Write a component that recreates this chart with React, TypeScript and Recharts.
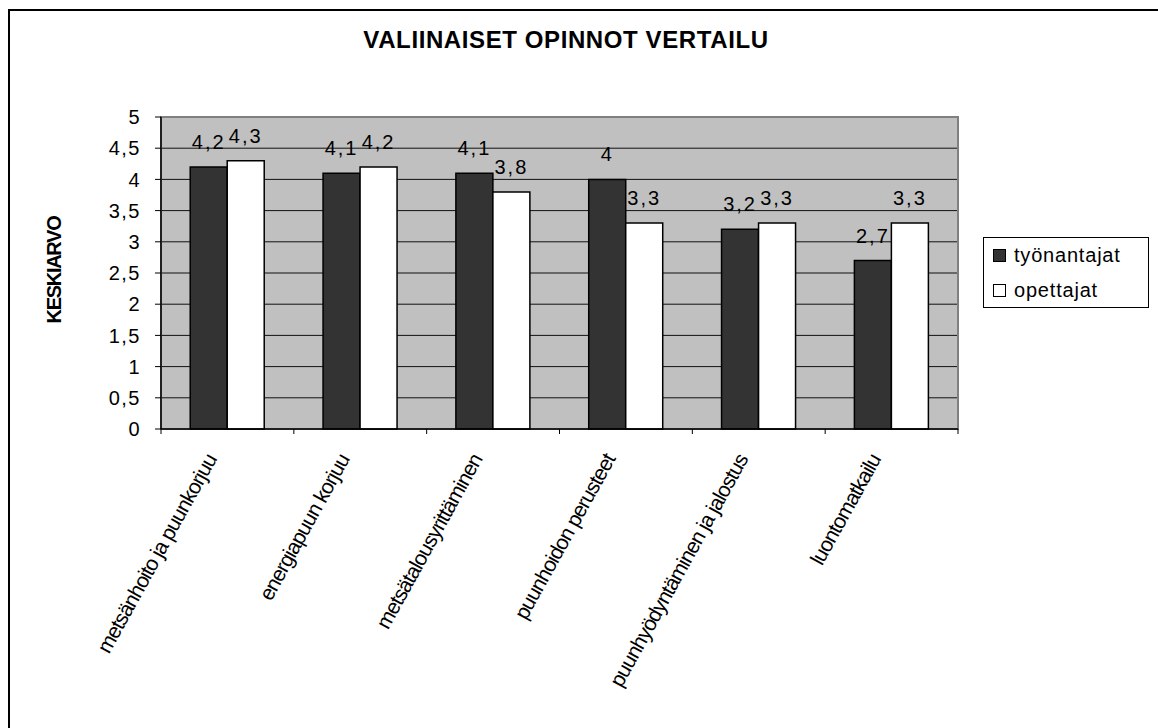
import React from 'react';
import { BarChart, Bar, XAxis, YAxis, CartesianGrid, LabelList, Legend, ReferenceArea, Label } from 'recharts';

const categories = [
  'metsänhoito ja puunkorjuu',
  'energiapuun korjuu',
  'metsätalousyrittäminen',
  'puunhoidon perusteet',
  'puunhyödyntäminen ja jalostus',
  'luontomatkailu',
];
const tyonantajat = [4.2, 4.1, 4.1, 4.0, 3.2, 2.7];
const opettajat = [4.3, 4.2, 3.8, 3.3, 3.3, 3.3];
const seriesNames = ['työnantajat', 'opettajat'];
const yTicks = [0, 0.5, 1, 1.5, 2, 2.5, 3, 3.5, 4, 4.5, 5];
const title = 'VALIINAISET OPINNOT VERTAILU';
const yLabel = 'KESKIARVO';

const data = categories.map((c, i) => ({ name: c, tyonantajat: tyonantajat[i], opettajat: opettajat[i] }));

const FONT = '"Liberation Sans", Arial, sans-serif';
const W = 1158;
const H = 728;
const MARGIN = { top: 117, right: 200, bottom: 0, left: 0 };
const Y_W = 161;
const X_H = 299;
const PLOT_W = W - MARGIN.left - MARGIN.right - Y_W;

const fmt = (v: any) => String(v).replace('.', ',');

const XTick = (props: any) => {
  const { x, y, payload, index } = props;
  const band = PLOT_W / categories.length;
  const ax = x - 10;
  const ay = y + 30;
  return (
    <g>
      <line x1={x - band / 2} y1={y} x2={x - band / 2} y2={y + 5} stroke="#000" strokeWidth={1} />
      {index === categories.length - 1 && (
        <line x1={x + band / 2} y1={y} x2={x + band / 2} y2={y + 5} stroke="#000" strokeWidth={1} />
      )}
      <text
        x={ax}
        y={ay}
        transform={`rotate(-61 ${ax} ${ay})`}
        textAnchor="end"
        fontFamily={FONT}
        fontSize={21}
        letterSpacing={-0.9}
        fill="#000"
      >
        {payload.value}
      </text>
    </g>
  );
};

const renderLegend = () => {
  const fills = ['#333333', '#ffffff'];
  return (
    <div
      style={{
        width: 166,
        height: 71,
        boxSizing: 'border-box',
        border: '1px solid #000',
        background: '#fff',
        fontFamily: FONT,
        fontSize: 20,
        color: '#000',
      }}
    >
      {seriesNames.map((n, i) => (
        <div key={n} style={{ height: 35, display: 'flex', alignItems: 'center', paddingLeft: 9 }}>
          <span
            style={{
              display: 'inline-block',
              width: 11,
              height: 11,
              background: fills[i],
              border: '1px solid #000',
              marginRight: 8,
            }}
          />
          <span style={{ letterSpacing: 0.8 }}>{n}</span>
        </div>
      ))}
    </div>
  );
};

export default function App() {
  return (
    <div style={{ position: 'fixed', left: 0, top: 0, width: W, height: H, overflow: 'hidden', background: '#fff' }}>
      <div
        style={{
          position: 'absolute',
          left: 8,
          top: 9,
          width: 1400,
          height: 900,
          border: '2px solid #000',
        }}
      />
      <div
        style={{
          position: 'absolute',
          left: 166,
          top: 28,
          width: 800,
          textAlign: 'center',
          fontFamily: FONT,
          fontWeight: 'bold',
          fontSize: 24,
          lineHeight: '24px',
          letterSpacing: 0.6,
          color: '#000',
        }}
      >
        {title}
      </div>
      <div style={{ position: 'absolute', left: 0, top: 0 }}>
        <BarChart
          width={W}
          height={H}
          data={data}
          margin={MARGIN}
          barCategoryGap="22%"
          barGap={0}
        >
          <CartesianGrid vertical={false} horizontal={true} stroke="#111" fill="#C0C0C0" strokeOpacity={1} />
          <ReferenceArea y1={0} y2={5} fill="none" stroke="#808080" strokeWidth={2} ifOverflow="visible" />
          <XAxis
            dataKey="name"
            height={X_H}
            interval={0}
            tickLine={false}
            tickSize={0}
            tickMargin={0}
            axisLine={{ stroke: '#000', strokeWidth: 1.5 }}
            tick={<XTick />}
          />
          <YAxis
            width={Y_W}
            domain={[0, 5]}
            ticks={yTicks}
            interval={0}
            tickFormatter={fmt}
            tickSize={6}
            tickMargin={14}
            axisLine={{ stroke: '#000', strokeWidth: 1.5 }}
            tickLine={{ stroke: '#000' }}
            tick={{ fill: '#000', fontSize: 20, fontFamily: FONT, letterSpacing: 1.5 }}
          >
            <Label
              content={() => (
                <text
                  x={54}
                  y={270}
                  transform="rotate(-90 54 270)"
                  textAnchor="middle"
                  dominantBaseline="central"
                  fontFamily={FONT}
                  fontWeight="bold"
                  fontSize={20}
                  letterSpacing={-1.3}
                  fill="#000"
                >
                  {yLabel}
                </text>
              )}
            />
          </YAxis>
          <Legend
            layout="vertical"
            align="center"
            verticalAlign="middle"
            wrapperStyle={{ left: 983, top: 237, width: 166, height: 71 }}
            content={renderLegend}
          />
          <Bar dataKey="tyonantajat" name={seriesNames[0]} fill="#333333" stroke="#000" strokeWidth={1.5} isAnimationActive={false}>
            <LabelList
              dataKey="tyonantajat"
              position="top"
              offset={18}
              formatter={fmt}
              fill="#000"
              fontSize={20}
              fontFamily={FONT}
              letterSpacing={2}
            />
          </Bar>
          <Bar dataKey="opettajat" name={seriesNames[1]} fill="#ffffff" stroke="#000" strokeWidth={1.5} isAnimationActive={false}>
            <LabelList
              dataKey="opettajat"
              position="top"
              offset={18}
              formatter={fmt}
              fill="#000"
              fontSize={20}
              fontFamily={FONT}
              letterSpacing={2}
            />
          </Bar>
        </BarChart>
      </div>
    </div>
  );
}
